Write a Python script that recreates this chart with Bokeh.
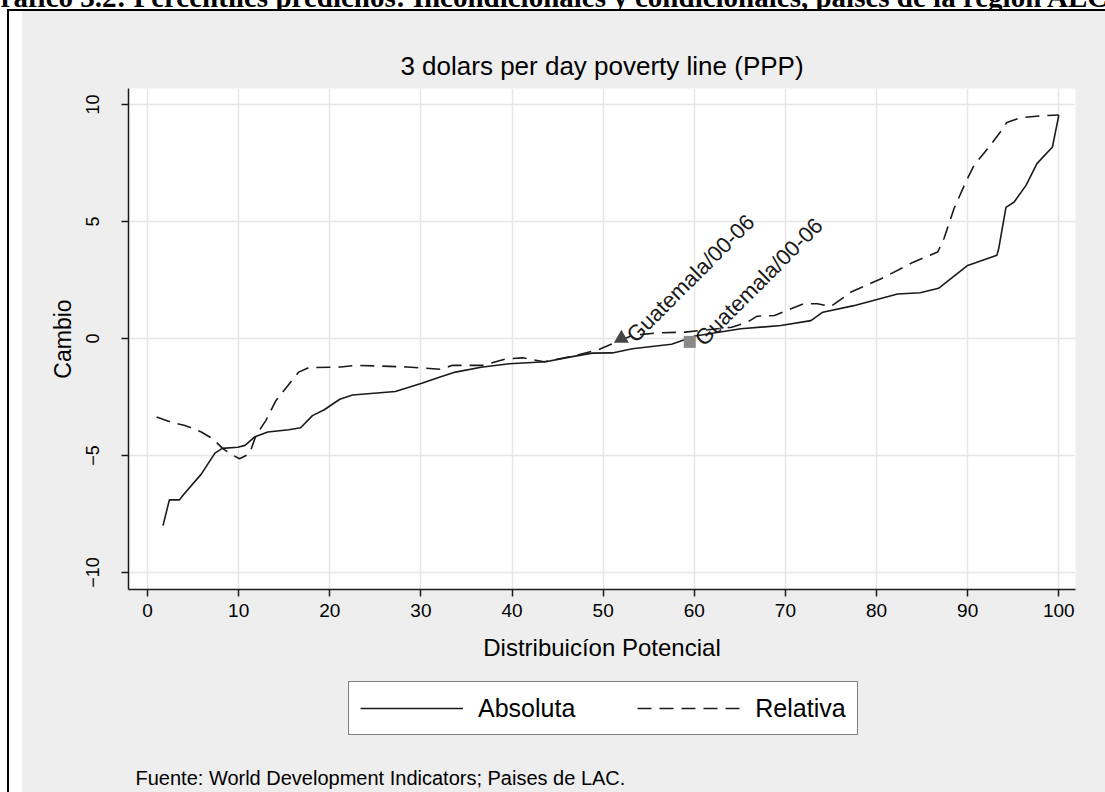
import math
from bokeh.plotting import figure
from bokeh.layouts import column, row
from bokeh.models import Range1d, FixedTicker, Label, Legend, LegendItem, Div
from bokeh.embed import file_html
from bokeh.resources import INLINE

# ---------------- data ----------------
abs_x = [1.7, 2.4, 3.5, 3.9, 5.9, 7.4, 8.2, 9.9, 10.7, 11.8, 13.2, 15.5, 16.8, 18.1, 19.4,
         21.1, 22.5, 27.2, 30.1, 32.1, 33.8, 36.6, 39.7, 43.7, 46.3, 48.8, 51.0, 53.2,
         57.5, 60.1, 65.1, 69.5, 72.8, 74.1, 77.5, 82.3, 84.8, 86.8, 90.0, 93.2, 93.4,
         94.2, 95.1, 96.4, 97.6, 99.3, 100.0]
abs_y = [-8.0, -6.9, -6.9, -6.7, -5.8, -4.9, -4.7, -4.65, -4.57, -4.2, -4.0, -3.9, -3.82,
         -3.3, -3.05, -2.6, -2.42, -2.27, -1.92, -1.65, -1.44, -1.23, -1.08, -1.0, -0.8,
         -0.63, -0.62, -0.44, -0.25, 0.1, 0.41, 0.55, 0.76, 1.12, 1.4, 1.9, 1.95, 2.14,
         3.12, 3.55, 3.83, 5.6, 5.83, 6.54, 7.47, 8.18, 9.54]

rel_x = [1.0, 2.6, 4.1, 5.9, 7.2, 8.3, 9.4, 10.1, 11.2, 11.9, 13.0, 14.1, 15.7, 16.6,
         17.7, 21.2, 23.0, 28.5, 32.1, 33.5, 36.8, 39.4, 41.2, 43.5, 47.0, 49.5, 51.0,
         53.2, 56.1, 59.0, 61.5, 64.1, 65.8, 66.9, 68.8, 72.0, 73.5, 75.0, 77.2, 80.5,
         84.1, 86.7, 87.4, 88.5, 89.8, 90.7, 92.2, 93.6, 94.3, 95.8, 98.2, 100.0]
rel_y = [-3.36, -3.58, -3.72, -4.0, -4.3, -4.72, -5.0, -5.14, -4.93, -4.15, -3.5, -2.65,
         -1.87, -1.44, -1.25, -1.22, -1.15, -1.22, -1.32, -1.15, -1.15, -0.87, -0.83,
         -1.0, -0.73, -0.48, -0.23, 0.13, 0.24, 0.27, 0.37, 0.48, 0.69, 0.95, 0.98, 1.48,
         1.48, 1.37, 1.98, 2.55, 3.27, 3.69, 4.27, 5.55, 6.69, 7.4, 8.11, 8.83, 9.23,
         9.43, 9.52, 9.55]

tri_x = [52.0]
tri_y = [0.0]
sq_x = [59.5]
sq_y = [-0.15]
point_label = "Guatemala/00-06"

x_ticks = [0, 10, 20, 30, 40, 50, 60, 70, 80, 90, 100]
y_ticks = [-10, -5, 0, 5, 10]

series_names = ["Absoluta", "Relativa"]
title_text = "3 dolars per day poverty line (PPP)"
x_title = "Distribuicíon Potencial"
y_title = "Cambio"
note_text = "Fuente: World Development Indicators; Paises de LAC."
header_text = "Gráfico 3.2: Percentiles predichos: Incondicionales y condicionales, países de la región ALC"

# ---------------- layout constants ----------------
PAGE_W, PAGE_H = 1105, 792
TOP_H = 11            # white band with the black top rule
LEFT_W = 22           # white strip with the black left rule
MAIN_W = PAGE_W - LEFT_W
MAIN_H = 654
LOW_H = PAGE_H - TOP_H - MAIN_H
BL, BR = 106, 30      # left / right borders around the plotting frame

FONT = "Liberation Sans"
INK = "#1a1a1a"
GRAY = "#eeeeee"
NAN = float("nan")

# ---------------- main chart ----------------
p = figure(width=MAIN_W, height=MAIN_H, output_backend="svg", toolbar_location=None,
           x_range=Range1d(-2.085, 101.83), y_range=Range1d(-10.73, 10.68),
           min_border_left=BL, min_border_right=BR, min_border_top=77,
           min_border_bottom=MAIN_H - 578, title=title_text)
p.border_fill_color = GRAY
p.background_fill_color = "white"
p.outline_line_color = None

p.title.align = "center"
p.title.text_font = FONT
p.title.text_font_style = "normal"
p.title.text_font_size = "26px"
p.title.text_color = "black"
p.title.standoff = 15

p.xaxis.ticker = FixedTicker(ticks=x_ticks)
p.yaxis.ticker = FixedTicker(ticks=y_ticks)
for ax in (p.xaxis, p.yaxis):
    ax.axis_line_color = INK
    ax.axis_line_width = 1.5
    ax.major_tick_line_color = INK
    ax.major_tick_line_width = 1.5
    ax.major_tick_out = 7
    ax.major_tick_in = 0
    ax.minor_tick_line_color = None
    ax.major_label_text_font = FONT
    ax.major_label_text_color = "black"
    ax.axis_label_text_font = FONT
    ax.axis_label_text_font_style = "normal"
    ax.axis_label_text_color = "black"

p.xaxis.axis_label = x_title
p.xaxis.major_label_text_font_size = "19px"
p.xaxis.major_label_standoff = 7
p.xaxis.axis_label_text_font_size = "24px"
p.xaxis.axis_label_standoff = 14

p.yaxis.axis_label = y_title
p.yaxis.major_label_orientation = "vertical"
p.yaxis.major_label_text_font_size = "18px"
p.yaxis.major_label_standoff = 22
p.yaxis.axis_label_text_font_size = "23px"
p.yaxis.axis_label_standoff = 8

p.xgrid.grid_line_color = "#e6e6e6"
p.ygrid.grid_line_color = "#e6e6e6"
p.xgrid.grid_line_width = 1.5
p.ygrid.grid_line_width = 1.5

r_abs = p.line(abs_x, abs_y, line_color=INK, line_width=1.6)
r_rel = p.line(rel_x, rel_y, line_color=INK, line_width=1.6, line_dash="14 8")

p.scatter(tri_x, tri_y, marker="triangle", size=15, fill_color="#454545", line_color=None)
p.scatter(sq_x, sq_y, marker="square", size=12, fill_color="#8a8a8a", line_color=None)

for mx, my in ((tri_x[0], tri_y[0]), (sq_x[0], sq_y[0])):
    p.add_layout(Label(x=mx, y=my, x_offset=9, text=point_label, angle=math.pi / 4,
                       text_align="left", text_baseline="middle",
                       text_font=FONT, text_font_size="22px", text_color=INK))

# ---------------- lower panel: legend + source note ----------------
# ranges in page pixels: frame spans page x 128..1075, page y 665..792 (y measured up from 792)
q = figure(width=MAIN_W, height=LOW_H, output_backend="svg", toolbar_location=None,
           x_range=Range1d(LEFT_W + BL, PAGE_W - BR), y_range=Range1d(0, LOW_H), title=None,
           min_border_left=BL, min_border_right=BR, min_border_top=0, min_border_bottom=0,
           x_axis_location=None, y_axis_location=None)
q.border_fill_color = GRAY
q.border_fill_alpha = 1
q.background_fill_color = GRAY
q.outline_line_color = None
q.grid.visible = False

# legend-key renderers (no visible data)
k_abs = q.line([NAN, NAN], [NAN, NAN], line_color=INK, line_width=1.6)
k_rel = q.line([NAN, NAN], [NAN, NAN], line_color=INK, line_width=1.6, line_dash="14 8")

legend = Legend(items=[LegendItem(label=series_names[0], renderers=[k_abs]),
                       LegendItem(label=series_names[1], renderers=[k_rel])],
                location=(348 - (LEFT_W + BL), PAGE_H - 735), orientation="horizontal",
                glyph_width=103, glyph_height=30, label_height=30,
                label_standoff=15, spacing=62, padding=11, margin=0,
                border_line_color="black", border_line_width=1,
                background_fill_color="white", background_fill_alpha=1,
                label_text_font=FONT, label_text_font_size="25px",
                label_text_color="black")
q.add_layout(legend)

q.add_layout(Label(x=135, y=PAGE_H - 777, text=note_text, text_align="left",
                   text_baseline="middle", text_font=FONT,
                   text_font_size="20px", text_color="black"))

# ---------------- frame of the embedded picture ----------------
top = Div(text=('<div style="position:relative; top:-17px; left:-22px; white-space:nowrap; '
                'font-family:\'Liberation Serif\'; font-weight:bold; font-size:29px; '
                'line-height:29px; color:black;">' + header_text + '</div>'),
          width=PAGE_W, height=TOP_H, margin=0,
          styles={"overflow": "hidden",
                  "background": "linear-gradient(black, black) 7px 9px / 3000px 2px no-repeat, white"})
left = Div(text="", width=LEFT_W, height=PAGE_H - TOP_H, margin=0,
           styles={"background": "linear-gradient(to right, white 0px, white 7px, black 7px, "
                                 "black 9px, white 9px, white 100%)"})

charts = column(p, q, spacing=0, styles={"background-color": GRAY})
layout = column(top, row(left, charts, spacing=0), spacing=0)

open("out.html", "w").write(file_html(layout, INLINE))
